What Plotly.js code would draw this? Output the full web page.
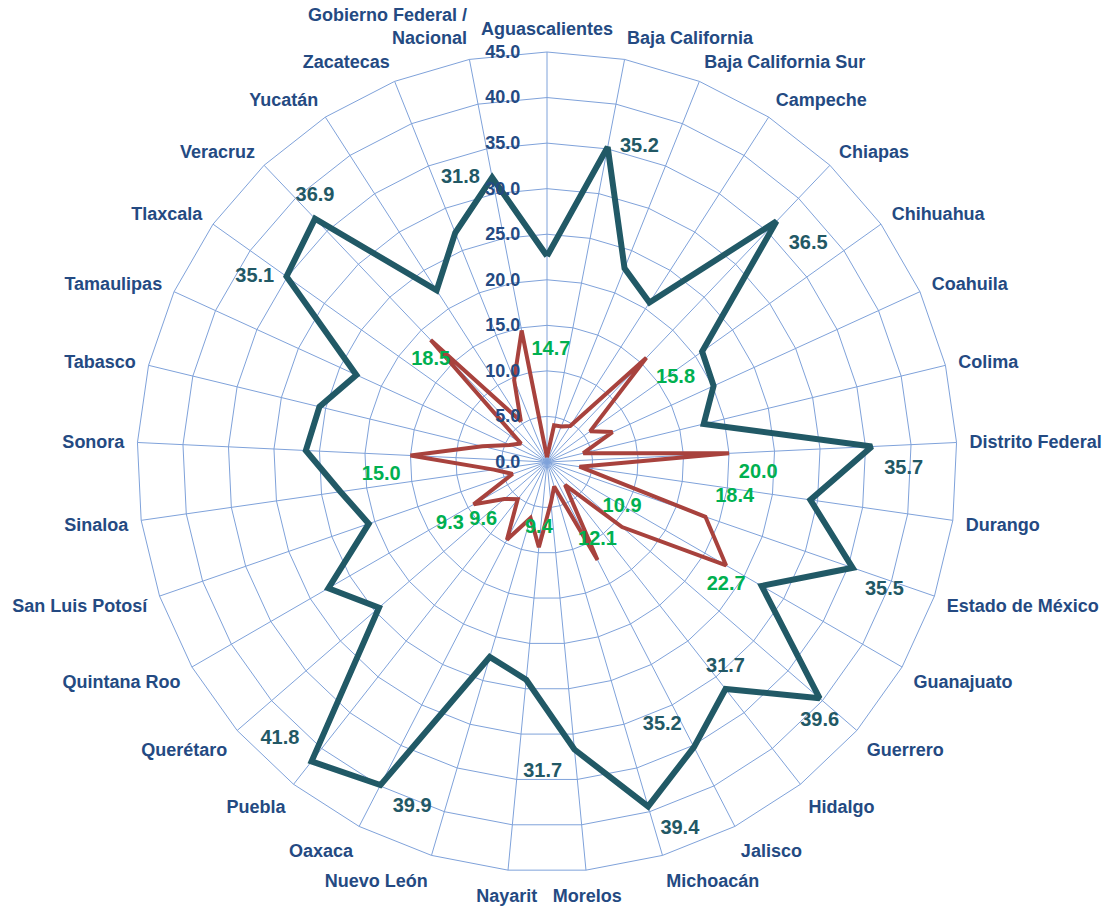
<!DOCTYPE html>
<html>
<head>
<meta charset="utf-8">
<script src="https://cdn.plot.ly/plotly-3.0.1.min.js"></script>
<style>html,body{margin:0;padding:0;background:#fff;}#chart{width:1108px;height:909px;}</style>
</head>
<body>
<div id="chart"></div>
<script>
const categories = ["Aguascalientes","Baja California","Baja California Sur","Campeche","Chiapas","Chihuahua","Coahuila","Colima","Distrito Federal","Durango","Estado de México","Guanajuato","Guerrero","Hidalgo","Jalisco","Michoacán","Morelos","Nayarit","Nuevo León","Oaxaca","Puebla","Querétaro","Quintana Roo","San Luis Potosí","Sinaloa","Sonora","Tabasco","Tamaulipas","Tlaxcala","Veracruz","Yucatán","Zacatecas","Gobierno Federal /<br>Nacional"];

const seriesDark = [22.6,35.2,22.9,20.8,36.5,20.9,20.1,17.7,35.7,29.2,35.5,27.2,39.6,31.7,35.2,39.4,31.7,24.0,22.3,39.9,41.8,24.4,27.7,20.7,22.9,26.5,25.7,23.0,35.1,36.9,22.4,27.1,31.8];

const seriesRed = [0.5,4.1,4.2,4.7,15.8,5.8,7.9,4.1,20.0,3.6,18.4,22.7,10.9,3.2,12.1,2.8,4.5,9.4,6.4,9.6,5.2,6.2,9.3,4.0,5.9,15.0,7.3,4.5,3.5,18.5,5.3,9.7,14.7];

const radialTicks = [0,5,10,15,20,25,30,35,40,45];

// which points carry a data label, and where the label sits
const darkLabelPos = {1:"middle right",4:"bottom right",8:"bottom right",10:"bottom right",12:"bottom center",13:"top center",14:"top left",15:"bottom right",16:"bottom left",19:"bottom right",20:"top left",28:"middle left",29:"top center",32:"middle left"};
const redLabelPos = {4:"bottom right",8:"bottom right",10:"top right",11:"bottom center",12:"top center",14:"top center",17:"top center",19:"top left",22:"bottom left",25:"bottom left",29:"bottom center",32:"bottom right"};

function labels(vals, pos){ return vals.map((v,i)=> pos[i] ? v.toFixed(1) : ""); }
function positions(vals, pos){ return vals.map((v,i)=> pos[i] || "middle center"); }

const thetaClosed = categories.concat([categories[0]]);
const close = a => a.concat([a[0]]);

const FONT = "Liberation Sans, Arial, sans-serif";

const traces = [
  {type:"scatterpolar", r: close(seriesDark), theta: thetaClosed, mode:"lines+markers+text",
   line:{color:"#215966", width:6}, marker:{size:18, opacity:0},
   text: close(labels(seriesDark, darkLabelPos)), textposition: close(positions(seriesDark, darkLabelPos)),
   textfont:{family:FONT, size:20, color:"#225865", weight:"bold"}, cliponaxis:false, hoverinfo:"skip"},
  {type:"scatterpolar", r: close(seriesRed), theta: thetaClosed, mode:"lines+markers+text",
   line:{color:"#A8423D", width:4}, marker:{size:14, opacity:0},
   text: close(labels(seriesRed, redLabelPos)), textposition: close(positions(seriesRed, redLabelPos)),
   textfont:{family:FONT, size:20, color:"#00B050", weight:"bold"}, cliponaxis:false, hoverinfo:"skip"}
];

const gridCol = "#7FA2DA";
const layout = {
  width:1108, height:909, showlegend:false,
  margin:{l:0,r:0,t:0,b:0},
  paper_bgcolor:"#ffffff",
  polar:{
    domain:{x:[(547-410)/1108,(547+410)/1108], y:[(447-410)/909,(447+410)/909]},
    bgcolor:"#ffffff",
    gridshape:"linear",
    angularaxis:{
      direction:"clockwise", rotation:90, type:"category", categoryorder:"array", categoryarray:categories,
      showgrid:true, gridcolor:gridCol, gridwidth:1, showline:true, linecolor:gridCol, linewidth:1,
      ticks:"outside", ticklen:9, tickcolor:"rgba(0,0,0,0)",
      tickfont:{family:FONT, size:18, color:"#244A82", weight:"bold"}
    },
    radialaxis:{
      range:[0,45], tickvals:radialTicks, ticktext:radialTicks.map(v=>v.toFixed(1)), angle:90, tickangle:90,
      showgrid:true, gridcolor:gridCol, gridwidth:1, showline:false,
      ticks:"outside", ticklen:20, tickcolor:"rgba(0,0,0,0)",
      side:"counterclockwise",
      tickfont:{family:FONT, size:18, color:"#244A82", weight:"bold"}
    }
  }
};

Plotly.newPlot("chart", traces, layout, {staticPlot:true, displayModeBar:false});
</script>
</body>
</html>
